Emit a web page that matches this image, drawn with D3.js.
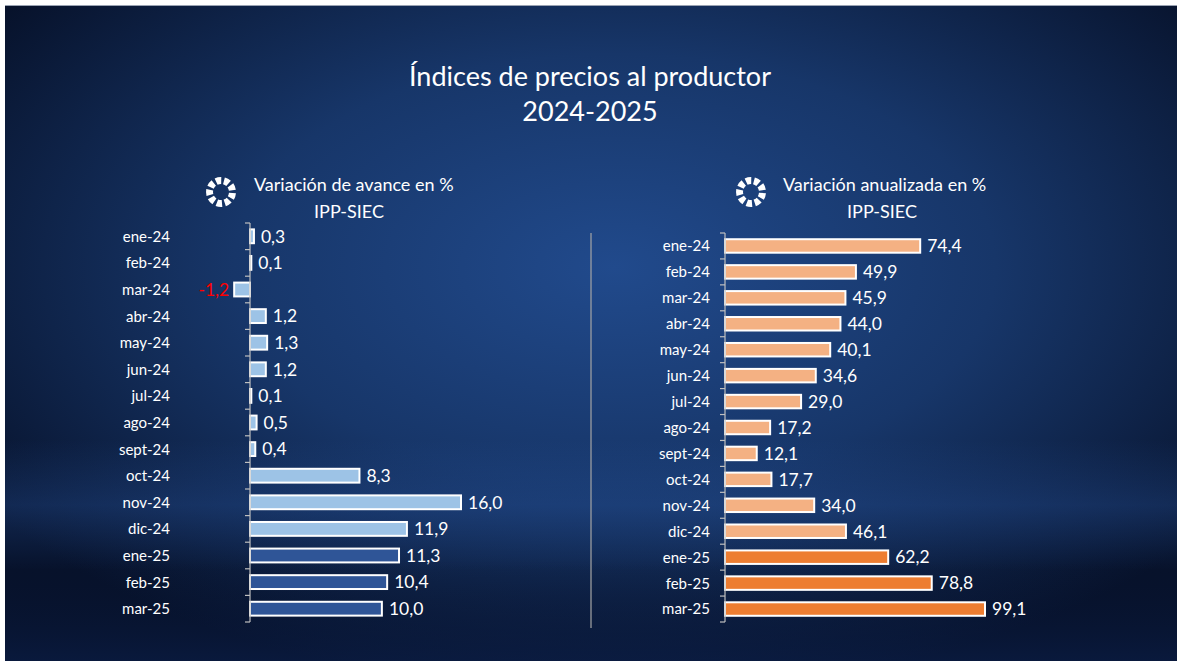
<!DOCTYPE html>
<html>
<head>
<meta charset="utf-8">
<script src="https://cdn.jsdelivr.net/npm/d3@7"></script>
<style>
  body { margin: 0; background: #fff; }
  svg text { font-family: Lato, "Open Sans", sans-serif; fill: #fff; }
</style>
</head>
<body>
<div id="chart"></div>
<script>
// categories and values
var months = ["ene-24","feb-24","mar-24","abr-24","may-24","jun-24","jul-24","ago-24","sept-24","oct-24","nov-24","dic-24","ene-25","feb-25","mar-25"];
var avance = [0.3, 0.1, -1.2, 1.2, 1.3, 1.2, 0.1, 0.5, 0.4, 8.3, 16.0, 11.9, 11.3, 10.4, 10.0];
var anualizada = [74.4, 49.9, 45.9, 44.0, 40.1, 34.6, 29.0, 17.2, 12.1, 17.7, 34.0, 46.1, 62.2, 78.8, 99.1];

let width = 1177;
let height = 661;

let svg = d3.select('#chart')
  .append('svg')
  .attr('width', width)
  .attr('height', height);

/** background */
let defs = svg.append('defs');
let rg = defs.append('radialGradient').attr('id', 'bg')
  .attr('cx', '0.52').attr('cy', '0.4').attr('r', '0.65');
rg.append('stop').attr('offset', '0%').attr('stop-color', '#214a8c');
rg.append('stop').attr('offset', '50%').attr('stop-color', '#173669');
rg.append('stop').attr('offset', '100%').attr('stop-color', '#07122b');

let band = defs.append('linearGradient').attr('id', 'glow')
  .attr('x1', 0).attr('y1', 0).attr('x2', 0).attr('y2', 1);
band.append('stop').attr('offset', '0%').attr('stop-color', '#2a5aa8').attr('stop-opacity', 0);
band.append('stop').attr('offset', '50%').attr('stop-color', '#2a5aa8').attr('stop-opacity', 0.3);
band.append('stop').attr('offset', '100%').attr('stop-color', '#2a5aa8').attr('stop-opacity', 0);

let bottomShade = defs.append('linearGradient').attr('id', 'shade')
  .attr('x1', 0).attr('y1', 0).attr('x2', 0).attr('y2', 1);
bottomShade.append('stop').attr('offset', '0%').attr('stop-color', '#06102a').attr('stop-opacity', 0);
bottomShade.append('stop').attr('offset', '100%').attr('stop-color', '#0b1e48').attr('stop-opacity', 0.6);

svg.append('rect').attr('x', 5).attr('y', 5).attr('width', width - 5).attr('height', height - 5)
  .attr('fill', 'url(#bg)');
svg.append('rect').attr('x', 5).attr('y', 440).attr('width', width - 5).attr('height', 130)
  .attr('fill', 'url(#glow)');
svg.append('rect').attr('x', 5).attr('y', 560).attr('width', width - 5).attr('height', 101)
  .attr('fill', 'url(#shade)');
svg.append('line').attr('x1', 5).attr('x2', width).attr('y1', 5.5).attr('y2', 5.5)
  .attr('stroke', '#9aa3b3').attr('stroke-width', 1);

/** title */
svg.append('text').attr('x', 590).attr('y', 86).attr('text-anchor', 'middle')
  .style('font-size', '27px').text('Índices de precios al productor');
svg.append('text').attr('x', 590).attr('y', 121).attr('text-anchor', 'middle')
  .style('font-size', '27px').text('2024-2025');

// comma decimals, plain hyphen for negatives
let fmt = v => d3.format('.1f')(v).replace('.', ',').replace('\u2212', '-');

function icon(cx, cy) {
  let g = svg.append('g').attr('transform', `translate(${cx},${cy})`);
  let arc = d3.arc().innerRadius(8).outerRadius(15);
  let n = 9;
  for (let i = 0; i < n; i++) {
    let a0 = i * 2 * Math.PI / n;
    g.append('path')
      .attr('d', arc({ startAngle: a0 + 0.12, endAngle: a0 + 2 * Math.PI / n - 0.12 }))
      .attr('fill', '#fff')
      .attr('transform', `rotate(${8})`);
  }
}

/** draws one bar panel */
function panel(opt) {
  let x = d3.scaleLinear().domain(opt.domain).range(opt.xrange);
  let y = d3.scaleBand().domain(months).range(opt.yrange).paddingInner(0.48).paddingOuter(0.24);
  let g = svg.append('g');

  g.selectAll('.bar')
    .data(opt.values)
    .enter()
    .append('rect')
    .attr('class', 'bar')
    .attr('x', d => x(Math.min(0, d)))
    .attr('y', (d, i) => y(months[i]))
    .attr('width', d => Math.abs(x(d) - x(0)))
    .attr('height', y.bandwidth())
    .attr('fill', (d, i) => i >= 12 ? opt.dark : opt.light)
    .attr('stroke', '#fff')
    .attr('stroke-width', 2);

  g.selectAll('.val')
    .data(opt.values)
    .enter()
    .append('text')
    .attr('class', 'val')
    .attr('x', d => d < 0 ? x(d) - 5 : x(d) + 7)
    .attr('y', (d, i) => y(months[i]) + y.bandwidth() / 2)
    .attr('dy', '0.36em')
    .attr('text-anchor', d => d < 0 ? 'end' : 'start')
    .style('font-size', '17.5px')
    .style('fill', d => d < 0 ? '#ff0000' : '#fff')
    .text(d => fmt(d));

  // axis line with ticks between categories
  let x0 = x(0);
  let step = y.step();
  let top = opt.yrange[0], bottom = opt.yrange[1];
  g.append('line').attr('x1', x0).attr('x2', x0).attr('y1', top).attr('y2', bottom)
    .attr('stroke', '#bfbfbf').attr('stroke-width', 1.2);
  d3.range(months.length + 1).forEach(i => {
    let yy = top + i * step;
    g.append('line').attr('x1', x0 - 5).attr('x2', x0).attr('y1', yy).attr('y2', yy)
      .attr('stroke', '#bfbfbf').attr('stroke-width', 1.2);
  });

  g.selectAll('.cat')
    .data(months)
    .enter()
    .append('text')
    .attr('class', 'cat')
    .attr('x', opt.labelX)
    .attr('y', d => y(d) + y.bandwidth() / 2)
    .attr('dy', '0.36em')
    .attr('text-anchor', 'end')
    .style('font-size', '15px')
    .text(d => d);

  icon(opt.iconX, 192);
  svg.append('text').attr('x', opt.titleX).attr('y', 191)
    .style('font-size', '18px').text(opt.title);
  svg.append('text').attr('x', opt.subX).attr('y', 218).attr('text-anchor', 'middle')
    .style('font-size', '18px').text('IPP-SIEC');
}

panel({
  values: avance, domain: [0, 16], xrange: [250, 461],
  yrange: [223, 622], labelX: 170,
  light: '#9dc3e6', dark: '#2f5597',
  iconX: 221, titleX: 254, subX: 349, title: 'Variación de avance en %'
});

panel({
  values: anualizada, domain: [0, 99.1], xrange: [725, 985],
  yrange: [233, 622], labelX: 710,
  light: '#f4b183', dark: '#ed7d31',
  iconX: 751, titleX: 783, subX: 882, title: 'Variación anualizada en %'
});

/** separator */
svg.append('line').attr('x1', 591).attr('x2', 591).attr('y1', 233).attr('y2', 628)
  .attr('stroke', '#a6a6a6').attr('stroke-width', 1.2);
</script>
</body>
</html>
